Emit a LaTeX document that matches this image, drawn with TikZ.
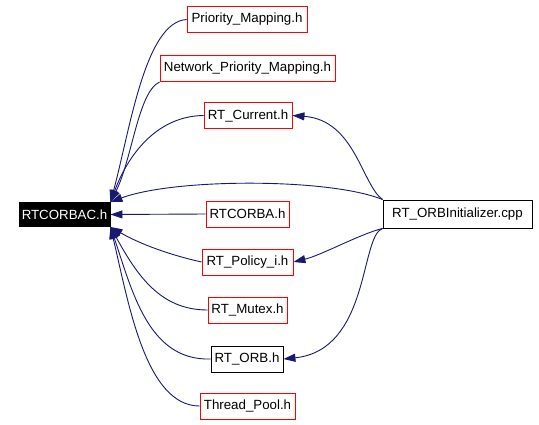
\documentclass[tikz,border=0pt]{standalone}
\usepackage{fontspec}
\setmainfont{Liberation Sans}
\usetikzlibrary{arrows.meta}
\definecolor{edgeblue}{HTML}{191970}
\begin{document}
\begin{tikzpicture}[x=1pt,y=-1pt,
  hdr/.style={draw=red, line width=0.9pt, fill=white, inner sep=0pt, minimum height=26pt,
    font=\fontsize{13.3}{16}\selectfont},
  blk/.style={hdr, draw=black},
  root/.style={hdr, draw=black, fill=black, text=white},
  edg/.style={draw=edgeblue, line width=0.9pt, -{Triangle[length=12pt,width=8pt]}}
]
\useasboundingbox[fill=white] (0,0) rectangle (539,424);

\node[root, minimum width=91pt, minimum height=24pt] (c) at (64.5,214.5) {RTCORBAC.h};
\node[hdr, minimum width=120pt] (pm)  at (247,19.5)  {Priority\_Mapping.h};
\node[hdr, minimum width=175pt] (npm) at (247.5,68.5) {Network\_Priority\_Mapping.h};
\node[hdr, minimum width=88pt]  (cur) at (248,115.5) {RT\_Current.h};
\node[hdr, minimum width=83pt]  (rtc) at (247.5,214) {RTCORBA.h};
\node[hdr, minimum width=91pt]  (pol) at (247.5,262) {RT\_Policy\_i.h};
\node[hdr, minimum width=79pt]  (mut) at (247.5,310) {RT\_Mutex.h};
\node[blk, minimum width=72pt]  (orb) at (247,359) {RT\_ORB.h};
\node[hdr, minimum width=95pt]  (tp)  at (247.5,406) {Thread\_Pool.h};
\node[blk, minimum width=149pt, minimum height=28pt] (ini) at (457.5,214) {RT\_ORBInitializer.cpp};

% edges into RTCORBAC.h from above
\draw[edg] (pm.west) .. controls (145,22) and (130,130) .. (c.north east);
\draw[edg] (npm.south west) .. controls (138,92) and (132,160) .. (c.north east);
\draw[edg] (cur.west) .. controls (160,116) and (130,150) .. (c.north east);
\draw[edg] (ini.north west) .. controls (330,178) and (175,178) .. (c.north east);
% straight
\draw[edg] (rtc.west) -- (c.east);
% edges into RTCORBAC.h from below
\draw[edg] (pol.west) .. controls (170,255) and (140,244) .. (c.south east);
\draw[edg] (mut.west) .. controls (160,310) and (137,275) .. (c.south east);
\draw[edg] (orb.west) .. controls (148,361) and (132,290) .. (c.south east);
\draw[edg] (tp.west) .. controls (145,406) and (128,300) .. (c.south east);

% edges from RT_ORBInitializer.cpp
\draw[edg] (ini.north west) .. controls (362,185) and (355,120) .. (cur.east);
\draw[edg] (ini.south west) .. controls (360,234) and (322,255) .. (pol.east);
\draw[edg] (ini.south west) .. controls (360,236) and (370,350) .. (orb.east);
\end{tikzpicture}
\end{document}
